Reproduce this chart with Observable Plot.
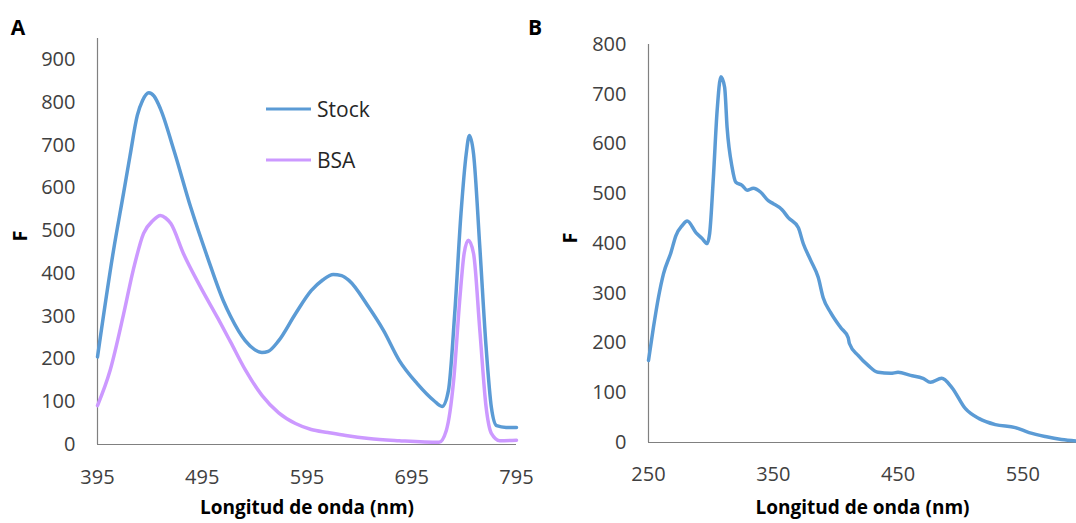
<!DOCTYPE html>
<html><head><meta charset="utf-8">
<script src="https://cdn.jsdelivr.net/npm/d3@7"></script>
<script src="https://cdn.jsdelivr.net/npm/@observablehq/plot@0.6"></script>
<style>
body{margin:0;background:#fff;}
#wrap{position:relative;width:1076px;height:523px;overflow:hidden;font-family:"Open Sans",sans-serif;background:#fff;}
#wrap svg{position:absolute;top:0;}
.lbl{position:absolute;font-weight:bold;font-size:21px;color:#000;line-height:1;transform:translate(-50%,-50%);}
.leg{position:absolute;display:flex;align-items:center;font-size:21px;color:#262626;line-height:1;transform:translateY(-50%);}
.leg .sw{display:inline-block;width:45px;height:3.5px;margin-right:6px;}
</style></head><body><div id="wrap"></div>
<script>
// Panel A - Stock
const wlStockA = [395,410,420,426,433,438,444,449,455,468,484,500,515,522,536,545,552,558,568,584,599,610,620,628,635,654,668,683,700,716,724,730,736,742,747,750,754,760,766,771,776,785,795];
const fStockA  = [205,450,590,675,770,805,823,815,786,688,555,438,337,300,243,222,215,218,243,306,360,385,398,395,384,321,267,197,143,103,89,126,306,540,680,723,680,461,227,87,44,40,40];
// Panel A - BSA
const wlBsaA = [395,407,420,429,439,448,455,460,465,477,493,510,522,536,552,568,584,599,615,632,654,683,721,728,735,741,745,749,754,760,766,771,779,795];
const fBsaA  = [91,173,306,407,494,524,536,530,517,447,370,295,240,175,115,74,49,35,28,21,14,9,5,33,150,344,447,478,447,267,87,26,9,10];
// Panel B - Stock
const wlStockB = [250,254,258,262,268,272,277,281,288,293,297,299,302,305,308,311,313,317,320,325,329,334,340,346,350,357,362,370,374,380,386,390,396,404,410,411,418,426,434,444,450,460,470,476,485,493,504,515,528,544,555,568,581,593];
const fStockB  = [165,232,292,339,382,416,436,445,422,410,400,420,533,667,735,714,633,553,523,517,507,511,503,486,480,468,452,432,400,366,332,291,261,231,211,199,175,155,141,139,141,135,129,121,129,111,68,48,36,30,20,12,6,3];

const ticksAx = [395,495,595,695,795];
const ticksAy = [0,100,200,300,400,500,600,700,800,900];
const ticksBx = [250,350,450,550];
const ticksBy = [0,100,200,300,400,500,600,700,800];
const domainAx = [395,795], domainAy = [0,950];
const domainBx = [250,593], domainBy = [0,800];
const seriesNames = ["Stock","BSA"];
const colors = ["#5B9BD5","#CC99FF"];
const xTitle = "Longitud de onda (nm)";
const yTitle = "F";

const rowsStockA = wlStockA.map((x,i)=>({x, y:fStockA[i]}));
const rowsBsaA = wlBsaA.map((x,i)=>({x, y:fBsaA[i]}));
const rowsStockB = wlStockB.map((x,i)=>({x, y:fStockB[i]}));

const axisStyle = {fontFamily:"Open Sans, sans-serif", fontSize:"20px", color:"#404040", background:"transparent", overflow:"visible"};
const lw = 3.5;

const plotA = Plot.plot({
  width:540, height:523,
  marginLeft:97, marginRight:24, marginTop:38, marginBottom:79,
  x:{domain:domainAx, ticks:ticksAx, tickSize:0, tickPadding:25, label:null},
  y:{domain:domainAy, ticks:ticksAy, tickSize:0, tickPadding:22, label:null},
  style:axisStyle,
  marks:[
    Plot.ruleX([domainAx[0]], {stroke:"#808080", strokeWidth:1.2}),
    Plot.ruleY([0], {stroke:"#808080", strokeWidth:1.2}),
    Plot.line(rowsBsaA, {x:"x", y:"y", stroke:colors[1], strokeWidth:lw, curve:"monotone-x"}),
    Plot.line(rowsStockA, {x:"x", y:"y", stroke:colors[0], strokeWidth:lw, curve:"monotone-x"}),
    Plot.text([xTitle], {text:d=>d, frameAnchor:"bottom", dy:69, fontWeight:"bold", fontSize:19, fill:"#000"}),
    Plot.text([yTitle], {text:d=>d, frameAnchor:"left", dx:-77, rotate:-90, fontWeight:"bold", fontSize:20, fill:"#000"})
  ]
});
plotA.style.left = "0px";

const plotB = Plot.plot({
  width:556, height:523,
  marginLeft:128, marginRight:0, marginTop:44, marginBottom:81,
  x:{domain:domainBx, ticks:ticksBx, tickSize:0, tickPadding:24, label:null},
  y:{domain:domainBy, ticks:ticksBy, tickSize:0, tickPadding:22, label:null},
  style:axisStyle,
  marks:[
    Plot.ruleX([domainBx[0]], {stroke:"#808080", strokeWidth:1.2}),
    Plot.ruleY([0], {stroke:"#808080", strokeWidth:1.2}),
    Plot.line(rowsStockB, {x:"x", y:"y", stroke:colors[0], strokeWidth:lw, curve:"monotone-x"}),
    Plot.text([xTitle], {text:d=>d, frameAnchor:"bottom", dy:71, fontWeight:"bold", fontSize:19, fill:"#000"}),
    Plot.text([yTitle], {text:d=>d, frameAnchor:"left", dx:-78, rotate:-90, fontWeight:"bold", fontSize:20, fill:"#000"})
  ]
});
plotB.style.left = "520px";

const wrap = document.getElementById("wrap");
wrap.appendChild(plotA);
wrap.appendChild(plotB);

function addLabel(t, x, y){
  const d = document.createElement("div");
  d.className = "lbl"; d.textContent = t;
  d.style.left = x+"px"; d.style.top = y+"px";
  wrap.appendChild(d);
}
addLabel("A", 18, 27);
addLabel("B", 535, 27);

const legendPos = [[266,109],[266,160]];
seriesNames.forEach((name,i)=>{
  const d = document.createElement("div");
  d.className = "leg";
  d.style.left = legendPos[i][0]+"px"; d.style.top = legendPos[i][1]+"px";
  const sw = document.createElement("span");
  sw.className = "sw"; sw.style.background = colors[i];
  d.appendChild(sw);
  d.appendChild(document.createTextNode(name));
  wrap.appendChild(d);
});
</script></body></html>
